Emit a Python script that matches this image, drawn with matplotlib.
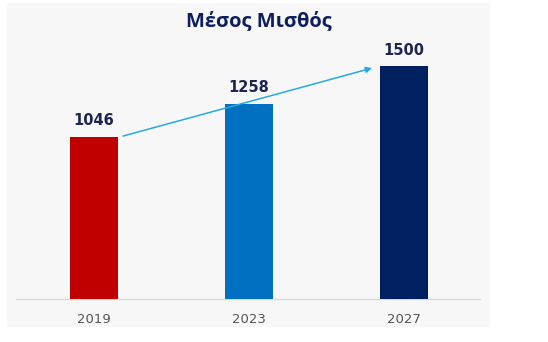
import matplotlib
matplotlib.use("Agg")
import matplotlib.pyplot as plt
from matplotlib.patches import Rectangle

years = ["2019", "2023", "2027"]
salary = [1046, 1258, 1500]
bar_colors = ["#c00000", "#0070c0", "#002060"]
title = "Μέσος Μισθός"

W, H = 548, 342
fig = plt.figure(figsize=(W / 100, H / 100), dpi=100)
fig.patch.set_facecolor("white")

# light panel behind the chart
fig.patches.append(Rectangle((7 / W, (H - 327) / H), (490 - 7) / W, (327 - 3) / H,
                             transform=fig.transFigure, facecolor="#f7f7f7",
                             edgecolor="none", zorder=-5))

ax = fig.add_axes([16 / W, (H - 299) / H, 464 / W, 264 / H])
ax.set_facecolor("none")
ax.set_zorder(2)

x = list(range(len(years)))
ax.bar(x, salary, width=0.31, color=bar_colors, zorder=3)
for xi, v in zip(x, salary):
    ax.text(xi, v + 55, str(v), ha="center", va="bottom", fontsize=10.5,
            fontweight="bold", color="#1b2550", family="DejaVu Sans")

ax.set_xlim(-0.503, 2.49)
ax.set_ylim(0, 1700)
ax.set_xticks(x)
ax.set_xticklabels(years, fontsize=9.5, color="#555555")
ax.tick_params(axis="x", length=0, pad=10)
ax.set_yticks([])
for s in ["top", "right", "left"]:
    ax.spines[s].set_visible(False)
ax.spines["bottom"].set_color("#d9d9d9")
ax.spines["bottom"].set_linewidth(1)

# growth trend arrow
ax.annotate("", xy=(1.794, 1487), xytext=(0.187, 1049),
            arrowprops=dict(arrowstyle="-|>", color="#27a9e1", lw=1.1,
                            mutation_scale=9, shrinkA=0, shrinkB=0), zorder=5)

fig.text(259 / W, 1 - 21 / H, title, ha="center", va="center", fontsize=14.5,
         fontweight="bold", color="#0d1f5c", family="Open Sans", zorder=3)

fig.savefig("out.png", dpi=100, facecolor="white")
